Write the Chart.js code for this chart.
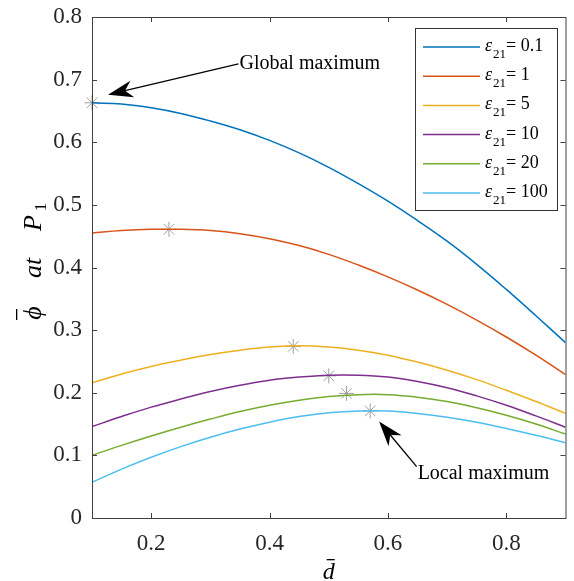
<!DOCTYPE html>
<html>
<head>
<meta charset="utf-8">
<script src="https://cdn.jsdelivr.net/npm/chart.js@4.4.1/dist/chart.umd.min.js"></script>
<style>
  html, body { margin: 0; padding: 0; background: #fff; }
  canvas { display: block; }
</style>
</head>
<body>
<canvas id="chart" width="574" height="581"></canvas>
<script>
// d-bar sample positions
const dValues = [0.1, 0.15, 0.2, 0.25, 0.3, 0.35, 0.4, 0.45, 0.5, 0.55, 0.6, 0.65, 0.7, 0.75, 0.8, 0.85, 0.9];

// phi-bar at P1, one array per epsilon_21
const phiEps01  = [0.663, 0.661, 0.655, 0.646, 0.634, 0.620, 0.603, 0.583, 0.560, 0.534, 0.506, 0.475, 0.442, 0.405, 0.365, 0.323, 0.280];
const phiEps1   = [0.455, 0.459, 0.461, 0.461, 0.459, 0.454, 0.446, 0.435, 0.421, 0.404, 0.385, 0.364, 0.341, 0.316, 0.289, 0.260, 0.229];
const phiEps5   = [0.216, 0.230, 0.242, 0.252, 0.261, 0.268, 0.273, 0.275, 0.273, 0.268, 0.260, 0.249, 0.236, 0.221, 0.204, 0.186, 0.167];
const phiEps10  = [0.146, 0.162, 0.177, 0.190, 0.202, 0.212, 0.220, 0.225, 0.228, 0.228, 0.225, 0.218, 0.208, 0.195, 0.180, 0.163, 0.145];
const phiEps20  = [0.100, 0.116, 0.131, 0.145, 0.158, 0.170, 0.180, 0.188, 0.194, 0.197, 0.197, 0.193, 0.186, 0.176, 0.164, 0.150, 0.134];
const phiEps100 = [0.057, 0.078, 0.097, 0.114, 0.129, 0.142, 0.153, 0.162, 0.168, 0.171, 0.171, 0.167, 0.161, 0.153, 0.143, 0.132, 0.120];

const epsLabels = ['0.1', '1', '5', '10', '20', '100'];
const seriesColors = ['#0072BD', '#D95319', '#EDB120', '#7E2F8E', '#77AC30', '#4DBEEE'];

// maxima marked with asterisks
const dMax   = [0.1, 0.23, 0.44, 0.5, 0.53, 0.57];
const phiMax = [0.663, 0.461, 0.274, 0.227, 0.199, 0.171];

const xTicks = [0.2, 0.4, 0.6, 0.8];
const yTicks = [0, 0.1, 0.2, 0.3, 0.4, 0.5, 0.6, 0.7, 0.8];

// annotation anchors, in data units
const globalArrow = { tail: [0.3475, 0.725], tip: [0.127, 0.676], text: 'Global maximum' };
const localArrow  = { tail: [0.6485, 0.082], tip: [0.585, 0.154], text: 'Local maximum' };

const FONT = '"Liberation Serif", "Times New Roman", serif';
const AXIS_COLOR = '#404040';

const allSeries = [phiEps01, phiEps1, phiEps5, phiEps10, phiEps20, phiEps100];

const datasets = allSeries.map((vals, i) => ({
    label: 'ε21 = ' + epsLabels[i],
    data: dValues.map((d, j) => ({ x: d, y: vals[j] })),
    borderColor: seriesColors[i],
    borderWidth: 1.5,
    pointRadius: 0,
    tension: 0.4,
    fill: false
}));

datasets.push({
    label: 'maxima',
    data: dMax.map((d, j) => ({ x: d, y: phiMax[j] })),
    showLine: false,
    pointStyle: 'star',
    pointRadius: 7.5,
    borderColor: '#a0a0a0',
    backgroundColor: '#a0a0a0',
    pointBorderWidth: 1,
    clip: false
});

// draw an arrow with a notched head (MATLAB style)
function drawArrow(ctx, x0, y0, x1, y1, len, half) {
    const a = Math.atan2(y1 - y0, x1 - x0);
    const c = Math.cos(a), s = Math.sin(a);
    const bx = x1 - len * c, by = y1 - len * s;
    const nx = x1 - len * 0.7 * c, ny = y1 - len * 0.7 * s;
    ctx.strokeStyle = '#000';
    ctx.lineWidth = 1.3;
    ctx.beginPath();
    ctx.moveTo(x0, y0);
    ctx.lineTo(nx, ny);
    ctx.stroke();
    ctx.fillStyle = '#000';
    ctx.beginPath();
    ctx.moveTo(x1, y1);
    ctx.lineTo(bx - half * s, by + half * c);
    ctx.lineTo(nx, ny);
    ctx.lineTo(bx + half * s, by - half * c);
    ctx.closePath();
    ctx.fill();
}

// box around the axes plus inward ticks on all four sides
const frameTicks = {
    id: 'frameTicks',
    afterDatasetsDraw(chart) {
        const { ctx, chartArea: a, scales } = chart;
        ctx.save();
        ctx.strokeStyle = AXIS_COLOR;
        ctx.lineWidth = 1;
        ctx.strokeRect(a.left + 0.5, a.top + 0.5, a.right - a.left, a.bottom - a.top);
        ctx.beginPath();
        xTicks.forEach(v => {
            const x = Math.round(scales.x.getPixelForValue(v)) + 0.5;
            ctx.moveTo(x, a.bottom); ctx.lineTo(x, a.bottom - 5);
            ctx.moveTo(x, a.top); ctx.lineTo(x, a.top + 5);
        });
        yTicks.forEach(v => {
            const y = Math.round(scales.y.getPixelForValue(v)) + 0.5;
            ctx.moveTo(a.left, y); ctx.lineTo(a.left + 5, y);
            ctx.moveTo(a.right, y); ctx.lineTo(a.right - 5, y);
        });
        ctx.stroke();
        ctx.restore();
    }
};

// legend box with subscripted labels
const epsLegend = {
    id: 'epsLegend',
    afterDraw(chart) {
        const ctx = chart.ctx;
        const bx = 415, by = 28, bw = 142, bh = 182;
        ctx.save();
        ctx.fillStyle = '#fff';
        ctx.fillRect(bx, by, bw, bh);
        ctx.strokeStyle = '#333';
        ctx.lineWidth = 1;
        ctx.strokeRect(bx + 0.5, by + 0.5, bw, bh);
        epsLabels.forEach((lab, i) => {
            const y = 47 + i * 29.2;
            ctx.strokeStyle = seriesColors[i];
            ctx.lineWidth = 1.5;
            ctx.beginPath();
            ctx.moveTo(423, y); ctx.lineTo(480, y);
            ctx.stroke();
            ctx.fillStyle = '#000';
            ctx.textBaseline = 'alphabetic';
            ctx.textAlign = 'left';
            ctx.font = 'italic 18px ' + FONT;
            ctx.fillText('ε', 485, y + 4);
            ctx.font = '13px ' + FONT;
            ctx.fillText('21', 493, y + 11);
            ctx.font = '18px ' + FONT;
            ctx.fillText('= ' + lab, 506, y + 4);
        });
        ctx.restore();
    }
};

// arrows, their notes and the axis titles
const notes = {
    id: 'notes',
    afterDraw(chart) {
        const { ctx, scales } = chart;
        const px = p => [scales.x.getPixelForValue(p[0]), scales.y.getPixelForValue(p[1])];
        ctx.save();
        [globalArrow, localArrow].forEach(ar => {
            const t = px(ar.tail), h = px(ar.tip);
            drawArrow(ctx, t[0], t[1], h[0], h[1], 25, 8.5);
            ctx.fillStyle = '#000';
            ctx.font = '20px ' + FONT;
            ctx.textBaseline = 'middle';
            ctx.textAlign = 'left';
            ctx.fillText(ar.text, t[0] + 1, t[1] + (ar === localArrow ? 7 : 0));
        });

        // x title: d with a bar
        ctx.font = 'italic 24px ' + FONT;
        ctx.textBaseline = 'alphabetic';
        ctx.textAlign = 'center';
        const cx = (chart.chartArea.left + chart.chartArea.right) / 2;
        ctx.fillText('d', cx, 579);
        ctx.fillRect(cx - 2, 559, 8, 1.3);

        // y title: phi-bar  at  P1, rotated; offsets along the text direction
        ctx.translate(41, 265);
        ctx.rotate(-Math.PI / 2);
        ctx.textAlign = 'center';
        ctx.font = 'italic 26px ' + FONT;
        ctx.fillText('ϕ', -48, 0);
        ctx.fillRect(-55, -25, 11, 1.3);
        ctx.fillText('at', -3, 0);
        ctx.fillText('P', 42, 0);
        ctx.font = '17px ' + FONT;
        ctx.fillText('1', 58, 5);
        ctx.restore();
    }
};

new Chart(document.getElementById('chart'), {
    type: 'line',
    data: { datasets: datasets },
    options: {
        responsive: false,
        animation: false,
        events: [],
        layout: { padding: { top: 17, right: 0, left: 0, bottom: 0 } },
        plugins: {
            legend: { display: false },
            tooltip: { enabled: false }
        },
        scales: {
            x: {
                type: 'linear',
                min: 0.1,
                max: 0.9,
                grid: { display: false, drawTicks: false },
                border: { display: false },
                afterBuildTicks: scale => { scale.ticks = xTicks.map(v => ({ value: v })); },
                afterFit: scale => {
                    scale.height = 63;
                    scale.paddingLeft = 0;
                    scale.paddingRight = 0;
                },
                ticks: {
                    color: '#262626',
                    padding: 12,
                    maxRotation: 0,
                    font: { family: FONT, size: 23 },
                    callback: v => v.toFixed(1)
                }
            },
            y: {
                type: 'linear',
                min: 0,
                max: 0.8,
                grid: { display: false, drawTicks: false },
                border: { display: false },
                afterBuildTicks: scale => { scale.ticks = yTicks.map(v => ({ value: v })); },
                afterFit: scale => {
                    scale.width = 92;
                    scale.paddingTop = 0;
                    scale.paddingBottom = 0;
                },
                ticks: {
                    color: '#262626',
                    padding: 10,
                    font: { family: FONT, size: 23 },
                    callback: v => (v === 0 ? '0' : v.toFixed(1))
                }
            }
        }
    },
    plugins: [frameTicks, epsLegend, notes]
});
</script>
</body>
</html>
